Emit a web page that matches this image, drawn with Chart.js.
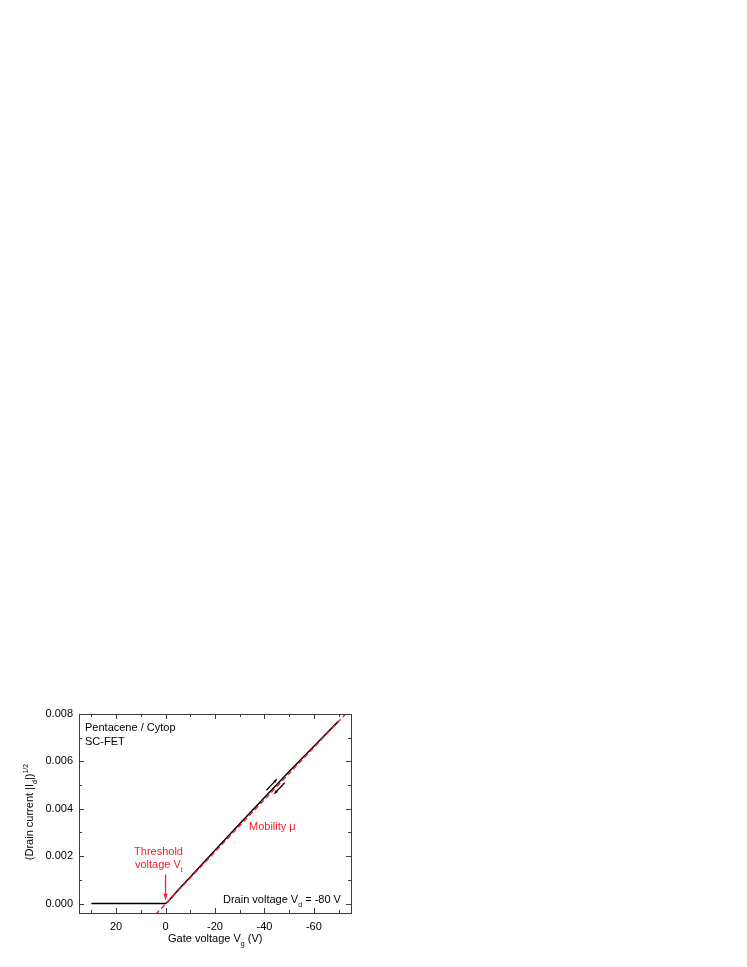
<!DOCTYPE html>
<html>
<head>
<meta charset="utf-8">
<script src="https://cdn.jsdelivr.net/npm/chart.js@4/dist/chart.umd.min.js"></script>
<style>
  html, body { margin: 0; padding: 0; background: #fff; }
  canvas { display: block; }
</style>
</head>
<body>
<canvas id="fetChart" width="747" height="967"></canvas>
<script>
// measured curve, sqrt(|Id|) vs gate voltage
const gateVoltage = [30, 20, 10, 0, -1, -2, -3, -5, -10, -20, -30, -40, -50, -60, -70];
const sqrtDrain = [0, 0, 0, 0, 0.00008, 0.0002, 0.00032, 0.00056, 0.00112, 0.00225, 0.00337, 0.00448, 0.00557, 0.00664, 0.0077];

// linear fit (red dashed)
const fitVoltage = [4, -73];
const fitCurrent = [-0.00046, 0.00802];

// axis ticks
const xMajorTicks = [20, 0, -20, -40, -60];
const xMinorTicks = [30, 10, -10, -30, -50, -70];
const yMajorTicks = [0, 0.002, 0.004, 0.006, 0.008];
const yMinorTicks = [0.001, 0.003, 0.005, 0.007];

// annotation arrows [x0, y0, x1, y1], head at the second point
const thresholdArrow = [0, 0.00122, 0, 0.00013];
const sweepUpArrow = [-40.8, 0.00478, -45.3, 0.00528];
const sweepDownArrow = [-48.2, 0.00510, -43.7, 0.00460];

const RED = '#f2202e';
const FONT = '"Liberation Sans", Arial, sans-serif';

function drawRich(ctx, parts, x, y, align, size) {
  let total = 0;
  const widths = parts.map(p => {
    ctx.font = (p.sub || p.sup ? Math.round(size * 0.62) : size) + 'px ' + FONT;
    const w = ctx.measureText(p.t).width;
    total += w;
    return w;
  });
  let cx = align === 'center' ? x - total / 2 : align === 'right' ? x - total : x;
  ctx.textAlign = 'left';
  ctx.textBaseline = 'alphabetic';
  parts.forEach((p, i) => {
    ctx.font = (p.sub || p.sup ? Math.round(size * 0.62) : size) + 'px ' + FONT;
    const dy = p.sub ? size * 0.32 : p.sup ? -size * 0.42 : 0;
    ctx.fillText(p.t, cx, y + dy);
    cx += widths[i];
  });
}

function drawArrow(ctx, xs, ys, a, color, head) {
  const x0 = xs.getPixelForValue(a[0]), y0 = ys.getPixelForValue(a[1]);
  const x1 = xs.getPixelForValue(a[2]), y1 = ys.getPixelForValue(a[3]);
  const ang = Math.atan2(y1 - y0, x1 - x0);
  ctx.strokeStyle = color;
  ctx.fillStyle = color;
  ctx.lineWidth = 1.3;
  ctx.beginPath();
  ctx.moveTo(x0, y0);
  ctx.lineTo(x1 - Math.cos(ang) * head * 0.6, y1 - Math.sin(ang) * head * 0.6);
  ctx.stroke();
  ctx.beginPath();
  ctx.moveTo(x1, y1);
  ctx.lineTo(x1 - head * Math.cos(ang - 0.3), y1 - head * Math.sin(ang - 0.3));
  ctx.lineTo(x1 - head * Math.cos(ang + 0.3), y1 - head * Math.sin(ang + 0.3));
  ctx.closePath();
  ctx.fill();
}

const decorPlugin = {
  id: 'decor',
  afterDatasetsDraw(chart) {
    const { ctx, chartArea: a, scales: { x, y } } = chart;
    ctx.save();

    // frame and inward ticks on all four sides
    ctx.strokeStyle = '#3c3c3c';
    ctx.lineWidth = 1;
    ctx.strokeRect(Math.round(a.left) + 0.5, Math.round(a.top) + 0.5,
      Math.round(a.right - a.left), Math.round(a.bottom - a.top));
    ctx.beginPath();
    const xTick = (v, len) => {
      const px = Math.round(x.getPixelForValue(v)) + 0.5;
      ctx.moveTo(px, a.bottom); ctx.lineTo(px, a.bottom - len);
      ctx.moveTo(px, a.top); ctx.lineTo(px, a.top + len);
    };
    const yTick = (v, len) => {
      const py = Math.round(y.getPixelForValue(v)) + 0.5;
      ctx.moveTo(a.left, py); ctx.lineTo(a.left + len, py);
      ctx.moveTo(a.right, py); ctx.lineTo(a.right - len, py);
    };
    xMajorTicks.forEach(v => xTick(v, 5));
    xMinorTicks.forEach(v => xTick(v, 3));
    yMajorTicks.forEach(v => yTick(v, 5));
    yMinorTicks.forEach(v => yTick(v, 3));
    ctx.stroke();

    // arrows
    drawArrow(ctx, x, y, thresholdArrow, RED, 7);
    drawArrow(ctx, x, y, sweepUpArrow, '#000', 5);
    drawArrow(ctx, x, y, sweepDownArrow, '#000', 5);

    // labels
    ctx.fillStyle = '#000';
    drawRich(ctx, [{ t: 'Pentacene / Cytop' }], 85, 731, 'left', 11);
    drawRich(ctx, [{ t: 'SC-FET' }], 85, 745, 'left', 11);
    drawRich(ctx, [{ t: 'Drain voltage V' }, { t: 'd', sub: true }, { t: ' = -80 V' }], 223, 903, 'left', 11);
    drawRich(ctx, [{ t: 'Gate voltage V' }, { t: 'g', sub: true }, { t: ' (V)' }], 168, 942, 'left', 11);

    ctx.fillStyle = RED;
    drawRich(ctx, [{ t: 'Threshold' }], 158.5, 855, 'center', 11);
    drawRich(ctx, [{ t: 'voltage V' }, { t: 't', sub: true }], 135, 868, 'left', 11);
    drawRich(ctx, [{ t: 'Mobility \u03bc' }], 249, 830, 'left', 11);

    // rotated y title
    ctx.fillStyle = '#000';
    ctx.translate(33, 812);
    ctx.rotate(-Math.PI / 2);
    drawRich(ctx, [{ t: '(Drain current |I' }, { t: 'd', sub: true }, { t: '|)' }, { t: '1/2', sup: true }], 0, 0, 'center', 11);

    ctx.restore();
  }
};

const measured = gateVoltage.map((v, i) => ({ x: v, y: sqrtDrain[i] }));
const fitted = fitVoltage.map((v, i) => ({ x: v, y: fitCurrent[i] }));

new Chart(document.getElementById('fetChart').getContext('2d'), {
  type: 'line',
  data: {
    datasets: [
      {
        label: 'fit',
        data: fitted,
        borderColor: RED,
        borderWidth: 1.4,
        borderDash: [5, 3],
        pointRadius: 0,
        order: 0
      },
      {
        label: 'sqrt Id',
        data: measured,
        borderColor: '#000',
        borderWidth: 1.5,
        pointRadius: 0,
        tension: 0,
        order: 1
      }
    ]
  },
  options: {
    responsive: false,
    animation: false,
    layout: { padding: { top: 714, right: 396, left: 0, bottom: 0 } },
    plugins: { legend: { display: false }, tooltip: { enabled: false } },
    scales: {
      x: {
        type: 'linear',
        reverse: true,
        min: -75,
        max: 35,
        afterBuildTicks: s => { s.ticks = xMajorTicks.map(v => ({ value: v })); },
        afterFit: s => { s.height = 54; },
        grid: { display: false, drawTicks: false },
        border: { display: false },
        ticks: { color: '#000', padding: 7, font: { family: FONT, size: 11 }, maxRotation: 0 }
      },
      y: {
        type: 'linear',
        min: -0.0004,
        max: 0.008,
        afterBuildTicks: s => { s.ticks = yMajorTicks.map(v => ({ value: v })); },
        afterFit: s => { s.width = 79; },
        grid: { display: false, drawTicks: false },
        border: { display: false },
        ticks: {
          color: '#000',
          padding: 6,
          font: { family: FONT, size: 11 },
          callback: v => v.toFixed(3)
        }
      }
    }
  },
  plugins: [decorPlugin]
});
</script>
</body>
</html>
